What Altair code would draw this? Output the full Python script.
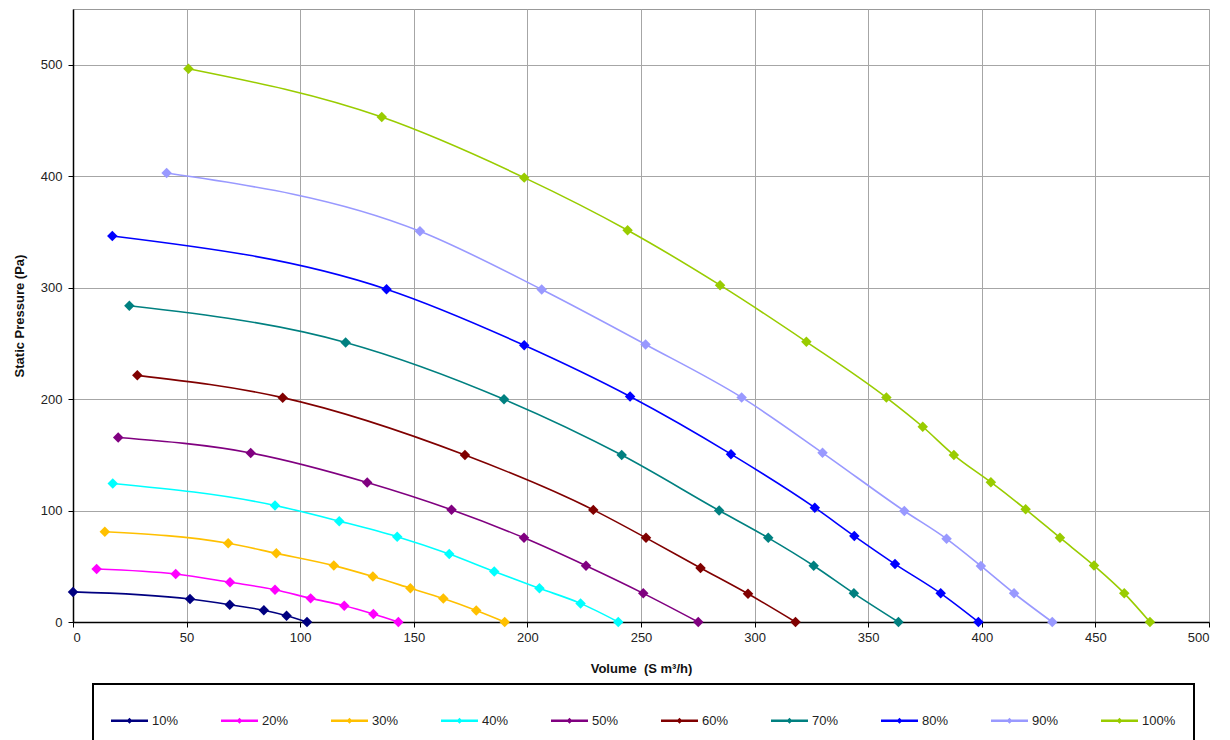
import altair as alt
import pandas as pd

series = ["10%", "20%", "30%", "40%", "50%", "60%", "70%", "80%", "90%", "100%"]
colors = ["#000080", "#FF00FF", "#FFC000", "#00FFFF", "#800080",
          "#800000", "#008080", "#0000FF", "#9999FF", "#99CC00"]

v10_x = [0, 51.5, 69, 84, 94, 103]
v10_y = [27, 20.6, 15.5, 10.5, 5.6, 0]
v20_x = [10.4, 45.2, 69.1, 88.9, 104.6, 119.4, 132.2, 143.2]
v20_y = [47.5, 43, 35.6, 29, 21.2, 14.6, 7.2, 0]
v30_x = [14, 68.3, 89.5, 114.8, 132, 148.5, 163, 177.5, 190]
v30_y = [81, 70.6, 61.6, 50.6, 40.8, 30.3, 21, 10.3, 0]
v40_x = [17.5, 88.9, 117.2, 142.7, 165.6, 185.4, 205.3, 223.4, 240]
v40_y = [124.3, 104.6, 90.5, 76.5, 61, 45.3, 30.2, 16.7, 0]
v50_x = [19.9, 78.2, 129.5, 166.6, 198.5, 225.8, 251, 275.2]
v50_y = [165.5, 151.7, 125.2, 100.7, 75.5, 50.5, 25.7, 0]
v60_x = [28.3, 92.3, 172.5, 229, 252.2, 276.2, 297.1, 318]
v60_y = [221.3, 201.3, 149.8, 100.6, 75.5, 48.5, 25.3, 0]
v70_x = [24.8, 120, 189.7, 241.5, 284.4, 306, 326, 343.7, 363.3]
v70_y = [283.7, 250.8, 199.8, 149.8, 100, 75.5, 50.5, 25.7, 0]
v80_x = [17.3, 138, 198.6, 245.2, 289.6, 326.5, 343.9, 361.8, 381.9, 398.5]
v80_y = [346.4, 298.6, 248.3, 202.3, 150.6, 102.6, 77.1, 52, 25.7, 0]
v90_x = [41.2, 152.7, 206.3, 252, 294.3, 329.9, 365.9, 384.5, 399.6, 414.2, 431]
v90_y = [402.8, 350.6, 298.3, 249, 201.5, 151.8, 99.6, 74.6, 50.3, 25.7, 0]
v100_x = [50.8, 135.9, 198.6, 244.1, 284.8, 322.8, 358, 374, 387.7, 404,
          419.3, 434.4, 449.4, 462.7, 474]
v100_y = [496.4, 453, 398.7, 351.5, 302.2, 251.4, 201.4, 175.2, 149.8, 125.4,
          101.1, 75.6, 50.6, 25.7, 0]

x_ticks = [0, 50, 100, 150, 200, 250, 300, 350, 400, 450, 500]
y_ticks = [0, 100, 200, 300, 400, 500]

xs = [v10_x, v20_x, v30_x, v40_x, v50_x, v60_x, v70_x, v80_x, v90_x, v100_x]
ys = [v10_y, v20_y, v30_y, v40_y, v50_y, v60_y, v70_y, v80_y, v90_y, v100_y]

rows = []
for name, sx, sy in zip(series, xs, ys):
    for i, (a, b) in enumerate(zip(sx, sy)):
        rows.append({"series": name, "volume": a, "pressure": b, "order": i})
df = pd.DataFrame(rows)

FONT = "Liberation Sans"

x_enc = alt.X("volume:Q",
              scale=alt.Scale(domain=[0, 500], nice=False, zero=False),
              axis=alt.Axis(values=x_ticks, title="Volume\u00a0\u00a0(S m³/h)", format="d"))
y_enc = alt.Y("pressure:Q",
              scale=alt.Scale(domain=[0, 550], nice=False),
              axis=alt.Axis(values=y_ticks, title="Static Pressure (Pa)", format="d"))

legend_shape = ("M-1,-0.07L1,-0.07L1,0.07L-1,0.07Z "
                "M0,-0.16L0.16,0L0,0.16L-0.16,0Z")

legend = alt.Legend(
    title=None, orient="none", legendX=20, legendY=675,
    direction="horizontal", columns=10,
    symbolType=legend_shape, symbolSize=1369, symbolStrokeWidth=0,
    symbolOpacity=1,
    labelFontSize=13, labelFont=FONT, labelColor="#222222", labelOffset=4,
    columnPadding=42, padding=18,
    strokeColor="#000000", fillColor="#ffffff",
)

color_enc = alt.Color("series:N", scale=alt.Scale(domain=series, range=colors),
                      legend=legend)

lines = alt.Chart(df).mark_line(interpolate="monotone", strokeWidth=1.6).encode(
    x=x_enc, y=y_enc,
    color=color_enc,
    order="order:Q",
)

points = alt.Chart(df).mark_point(shape="diamond", filled=True, size=110, opacity=1).encode(
    x=x_enc, y=y_enc,
    color=color_enc,
)

chart = alt.layer(lines, points).properties(
    width=1136, height=613,
    autosize=alt.AutoSizeParams(type="none"),
    padding={"left": 65, "top": 1, "right": 13, "bottom": 118},
).configure_view(
    stroke="#999999", strokeWidth=1
).configure_axis(
    labelFont=FONT, titleFont=FONT, labelFontSize=13, labelColor="#222222",
    titleColor="#111111", titleFontSize=13, titleFontWeight="bold",
    gridColor="#a6a6a6", gridWidth=1,
    domainColor="#000000", domainWidth=1.5,
    tickColor="#000000", tickSize=5, tickWidth=1,
).configure_axisX(
    labelPadding=4, titlePadding=18,
).configure_axisY(
    labelPadding=6, titlePadding=14,
).configure_legend(
    strokeWidth=2
)

chart.save("out.html", embed_options={"renderer": "svg", "actions": False})
